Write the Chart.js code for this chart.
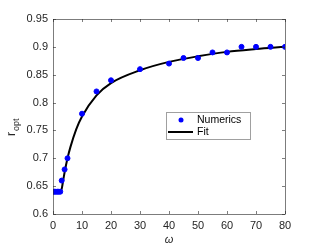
<!DOCTYPE html>
<html>
<head>
<meta charset="utf-8">
<script src="https://cdn.jsdelivr.net/npm/chart.js@4/dist/chart.umd.min.js"></script>
<style>
  html, body { margin:0; padding:0; background:#fff; }
  #wrap { width:316px; height:249px; }
</style>
</head>
<body>
<div id="wrap"><canvas id="c" width="316" height="249"></canvas></div>
<script>
// numerics
const numX = [0, 0.5, 1, 1.5, 2, 2.5, 3, 4, 5, 10, 15, 20, 30, 40, 45, 50, 55, 60, 65, 70, 75, 80];
const numY = [0.64, 0.64, 0.64, 0.64, 0.64, 0.64, 0.66, 0.68, 0.70, 0.78, 0.82, 0.84, 0.86, 0.87, 0.88, 0.88, 0.89, 0.89, 0.90, 0.90, 0.90, 0.90];
// fit curve
const fitX = [0, 2.7, 3.5, 4, 5, 6, 8, 10, 15, 20, 30, 40, 50, 60, 70, 80];
const fitY = [0.64, 0.64, 0.66, 0.675, 0.70, 0.72, 0.752, 0.775, 0.813, 0.835, 0.858, 0.873, 0.883, 0.891, 0.896, 0.900];
const xTicks = [0, 10, 20, 30, 40, 50, 60, 70, 80];
const yTicks = [0.6, 0.65, 0.7, 0.75, 0.8, 0.85, 0.9, 0.95];

const font = "'Liberation Sans', Arial, sans-serif";
const ink = '#262626';

const frame = {
  id: 'frame',
  afterDraw(chart) {
    const {ctx, chartArea: a, scales: {x, y}} = chart;
    ctx.save();
    ctx.strokeStyle = ink;
    ctx.lineWidth = 0.6;
    ctx.strokeRect(a.left + 0.5, a.top + 0.5, a.right - a.left, a.bottom - a.top);
    ctx.beginPath();
    xTicks.forEach(v => {
      const px = Math.round(x.getPixelForValue(v)) + 0.5;
      ctx.moveTo(px, a.bottom); ctx.lineTo(px, a.bottom - 3);
      ctx.moveTo(px, a.top); ctx.lineTo(px, a.top + 3);
    });
    yTicks.forEach(v => {
      const py = Math.round(y.getPixelForValue(v)) + 0.5;
      ctx.moveTo(a.left, py); ctx.lineTo(a.left + 3, py);
      ctx.moveTo(a.right, py); ctx.lineTo(a.right - 3, py);
    });
    ctx.stroke();

    // axis titles
    ctx.fillStyle = ink;
    ctx.font = 'italic 11px ' + font;
    ctx.textAlign = 'center';
    ctx.textBaseline = 'alphabetic';
    ctx.fillText('\u03c9', (a.left + a.right) / 2, 243);
    ctx.save();
    ctx.translate(15, 128);
    ctx.rotate(-Math.PI / 2);
    ctx.font = '12px ' + font;
    ctx.textAlign = 'left';
    ctx.fillText('r', -8, 0);
    ctx.font = '9px ' + font;
    ctx.fillText('opt', -3, 4);
    ctx.restore();

    // legend
    const lx = 166, ly = 112, lw = 84, lh = 27;
    ctx.fillStyle = '#fff';
    ctx.fillRect(lx, ly, lw, lh);
    ctx.strokeStyle = '#a0a0a0';
    ctx.lineWidth = 1;
    ctx.strokeRect(lx + 0.5, ly + 0.5, lw, lh);
    ctx.fillStyle = '#0000ff';
    ctx.beginPath();
    ctx.arc(lx + 15, ly + 8, 2.5, 0, Math.PI * 2);
    ctx.fill();
    ctx.strokeStyle = '#000';
    ctx.lineWidth = 2;
    ctx.beginPath();
    ctx.moveTo(lx + 2, ly + 20); ctx.lineTo(lx + 27, ly + 20);
    ctx.stroke();
    ctx.fillStyle = '#000';
    ctx.font = '10.5px ' + font;
    ctx.textAlign = 'left';
    ctx.textBaseline = 'middle';
    ctx.fillText('Numerics', lx + 31, ly + 8);
    ctx.fillText('Fit', lx + 31, ly + 20);
    ctx.restore();
  }
};

new Chart(document.getElementById('c'), {
  type: 'scatter',
  data: {
    datasets: [
      {
        label: 'Fit',
        type: 'line',
        data: fitX.map((v, i) => ({x: v, y: fitY[i]})),
        borderColor: '#000',
        borderWidth: 2,
        pointRadius: 0,
        cubicInterpolationMode: 'monotone',
        fill: false,
        order: 2
      },
      {
        label: 'Numerics',
        data: numX.map((v, i) => ({x: v, y: numY[i]})),
        backgroundColor: '#0000ff',
        borderColor: '#0000ff',
        pointRadius: 2.5,
        order: 1
      }
    ]
  },
  options: {
    responsive: false,
    animation: false,
    events: [],
    layout: { padding: { top: 19, right: 31, left: 0, bottom: 0 } },
    plugins: { legend: { display: false }, tooltip: { enabled: false } },
    scales: {
      x: {
        type: 'linear', min: 0, max: 80,
        afterFit: s => { s.height = 35; },
        afterBuildTicks: s => { s.ticks = xTicks.map(v => ({value: v})); },
        grid: { display: false, drawTicks: false },
        border: { display: false },
        ticks: { color: ink, font: { family: font, size: 11 }, padding: 5, maxRotation: 0 }
      },
      y: {
        type: 'linear', min: 0.6, max: 0.95,
        afterFit: s => { s.width = 53; },
        afterBuildTicks: s => { s.ticks = yTicks.map(v => ({value: v})); },
        grid: { display: false, drawTicks: false },
        border: { display: false },
        ticks: { color: ink, font: { family: font, size: 11 }, padding: 5,
                 callback: v => String(+v.toFixed(2)) }
      }
    }
  },
  plugins: [frame]
});
</script>
</body>
</html>
